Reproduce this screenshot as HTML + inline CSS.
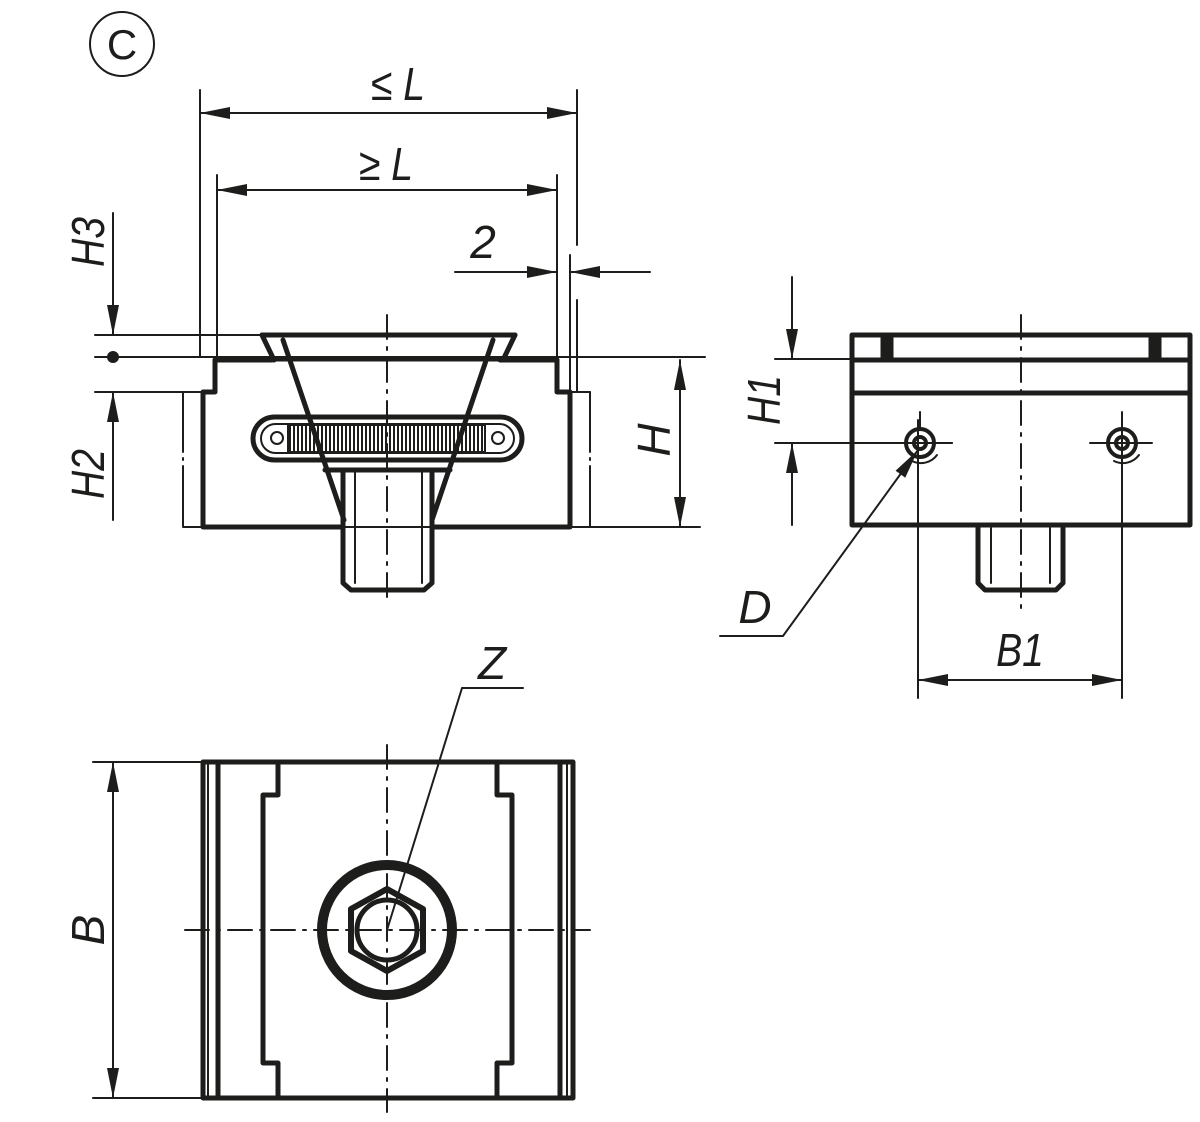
<!DOCTYPE html>
<html><head><meta charset="utf-8"><style>html,body{margin:0;padding:0;background:#fff}svg{display:block}</style></head>
<body>
<svg width="1200" height="1122" viewBox="0 0 1200 1122" xmlns="http://www.w3.org/2000/svg" font-family="Liberation Sans, sans-serif" font-style="italic">
<defs>
<marker id="a" viewBox="0 0 30 12" refX="30" refY="6" markerWidth="30" markerHeight="12" markerUnits="userSpaceOnUse" orient="auto-start-reverse"><path d="M0,0 L30,6 L0,12 z" fill="#1d1d1b"/></marker>
</defs>
<g stroke="#1d1d1b" fill="none" stroke-linecap="round" stroke-linejoin="round">
<circle cx="122" cy="44" r="32" stroke-width="2"/>
<g stroke-width="2">
<line x1="200" y1="90" x2="200" y2="357"/>
<line x1="577" y1="90" x2="577" y2="245"/>
<line x1="217" y1="175" x2="217" y2="357"/>
<line x1="557" y1="175" x2="557" y2="392"/>
<line x1="570" y1="255" x2="570" y2="392"/>
<line x1="577" y1="300" x2="577" y2="392"/>
<line x1="200" y1="113" x2="577" y2="113" marker-start="url(#a)" marker-end="url(#a)"/>
<line x1="217" y1="190" x2="557" y2="190" marker-start="url(#a)" marker-end="url(#a)"/>
<line x1="455" y1="272" x2="557" y2="272" marker-end="url(#a)"/>
<line x1="650" y1="272" x2="570" y2="272" marker-end="url(#a)"/>
<line x1="95" y1="335" x2="262" y2="335"/>
<line x1="95" y1="357" x2="705" y2="357"/>
<line x1="95" y1="392" x2="203" y2="392"/>
<line x1="113" y1="213" x2="113" y2="335" marker-end="url(#a)"/>
<line x1="113" y1="520" x2="113" y2="392" marker-end="url(#a)"/>
<line x1="183" y1="527" x2="700" y2="527"/>
<line x1="183" y1="392" x2="183" y2="527" stroke-dasharray="60,6,2,6"/>
<line x1="590" y1="392" x2="590" y2="527" stroke-dasharray="60,6,2,6"/>
<line x1="183" y1="392" x2="203" y2="392"/><line x1="570" y1="392" x2="590" y2="392"/>
<line x1="680" y1="360" x2="680" y2="527" marker-start="url(#a)" marker-end="url(#a)"/>
<line x1="775" y1="359" x2="852" y2="359"/>
<line x1="775" y1="443" x2="952" y2="443"/>
<line x1="792" y1="277" x2="792" y2="359" marker-end="url(#a)"/>
<line x1="792" y1="525" x2="792" y2="443" marker-end="url(#a)"/>
<line x1="918" y1="420" x2="918" y2="698"/>
<line x1="1122" y1="420" x2="1122" y2="698"/>
<line x1="918" y1="680" x2="1122" y2="680" marker-start="url(#a)" marker-end="url(#a)"/>
<line x1="1090" y1="443" x2="1152" y2="443"/>
<polyline points="720,636 783,636 918,450" marker-end="url(#a)"/>
<line x1="93" y1="762" x2="203" y2="762"/>
<line x1="93" y1="1098" x2="203" y2="1098"/>
<line x1="113" y1="762" x2="113" y2="1098" marker-start="url(#a)" marker-end="url(#a)"/>
<polyline points="523,688 462,688 387,930"/>
<line x1="387" y1="315" x2="387" y2="600" stroke-dasharray="24,8,3,8"/>
<line x1="1021" y1="315" x2="1021" y2="610" stroke-dasharray="24,8,3,8"/>
<line x1="387" y1="745" x2="387" y2="1112" stroke-dasharray="24,8,3,8"/>
<line x1="185" y1="930" x2="590" y2="930" stroke-dasharray="24,8,3,8"/>
<line x1="208" y1="762" x2="208" y2="1098"/>
<line x1="567" y1="762" x2="567" y2="1098"/>
</g>
<circle cx="113" cy="357" r="6" fill="#1d1d1b" stroke="none"/>
<g stroke-width="5">
<polyline points="215,360 215,392 203,392 203,527 343,527"/>
<polyline points="557,360 557,392 570,392 570,527 432,527"/>
<line x1="215" y1="360" x2="272" y2="360"/>
<line x1="500" y1="360" x2="557" y2="360"/>
<polyline points="262,335 515,335"/>
<line x1="262" y1="335" x2="274" y2="360"/>
<line x1="515" y1="335" x2="503" y2="360"/>
<line x1="283" y1="340" x2="344" y2="520"/>
<line x1="493" y1="340" x2="432" y2="520"/>
<line x1="275" y1="359" x2="500" y2="359"/>
<rect x="253" y="417" width="269" height="43" rx="21.5"/>
<polyline points="325,470 450,470"/>
<polyline points="343,470 343,583 351,590 424,590 432,583 432,470"/>
</g>
<g stroke-width="2">
<rect x="261" y="424" width="253" height="29" rx="14.5"/>
<circle cx="277" cy="438" r="6"/><circle cx="498" cy="438" r="6"/>
<line x1="355" y1="472" x2="355" y2="583"/><line x1="422" y1="472" x2="422" y2="583"/>
<rect x="288" y="425" width="197" height="27"/>
</g>
<path d="M290,426 V451 M294,426 V451 M298,426 V451 M302,426 V451 M306,426 V451 M310,426 V451 M314,426 V451 M318,426 V451 M322,426 V451 M326,426 V451 M330,426 V451 M334,426 V451 M338,426 V451 M342,426 V451 M346,426 V451 M350,426 V451 M354,426 V451 M358,426 V451 M362,426 V451 M366,426 V451 M370,426 V451 M374,426 V451 M378,426 V451 M382,426 V451 M386,426 V451 M390,426 V451 M394,426 V451 M398,426 V451 M402,426 V451 M406,426 V451 M410,426 V451 M414,426 V451 M418,426 V451 M422,426 V451 M426,426 V451 M430,426 V451 M434,426 V451 M438,426 V451 M442,426 V451 M446,426 V451 M450,426 V451 M454,426 V451 M458,426 V451 M462,426 V451 M466,426 V451 M470,426 V451 M474,426 V451 M478,426 V451 M482,426 V451" stroke-width="2"/>
<g stroke-width="5">
<rect x="852" y="335" width="338" height="190"/>
<line x1="852" y1="360" x2="1190" y2="360"/>
<line x1="852" y1="393" x2="1190" y2="393"/>
<rect x="883" y="338" width="8" height="22" fill="#1d1d1b"/>
<rect x="1151" y="338" width="8" height="22" fill="#1d1d1b"/>
<polyline points="978,525 978,583 985,590 1056,590 1063,583 1063,525"/>
<circle cx="920" cy="443" r="14" stroke-width="4"/>
<circle cx="1122" cy="443" r="14" stroke-width="4"/>
</g>
<g stroke-width="2">
<line x1="991" y1="528" x2="991" y2="583"/><line x1="1050" y1="528" x2="1050" y2="583"/>
<path d="M937,455 A20,20 0 0,1 912,461"/><path d="M1139,455 A20,20 0 0,1 1114,461"/>
<line x1="920" y1="412" x2="920" y2="430"/><line x1="933" y1="443" x2="952" y2="443"/>
<line x1="1122" y1="412" x2="1122" y2="430"/>
</g>
<circle cx="920" cy="443" r="6" stroke-width="4"/>
<circle cx="1122" cy="443" r="6" stroke-width="4"/>
<g stroke-width="5">
<rect x="203" y="762" width="370" height="336"/>
<line x1="218" y1="762" x2="218" y2="1098"/>
<line x1="560" y1="762" x2="560" y2="1098"/>
<polyline points="278,762 278,795 263,795 263,1063 278,1063 278,1098"/>
<polyline points="497,762 497,795 512,795 512,1063 497,1063 497,1098"/>
<circle cx="387" cy="930" r="65" stroke-width="10"/>
<polygon points="387,889 423,909 423,951 387,971 351,951 351,909" stroke-width="6"/>
<circle cx="387" cy="930" r="30"/>
</g>
</g>
<g fill="#1d1d1b" font-size="46">
<text x="122" y="59" font-style="normal" font-size="42" text-anchor="middle">C</text>
<text x="398" y="100" text-anchor="middle" transform="translate(398,0) scale(0.85,1) translate(-398,0)">≤ L</text>
<text x="386" y="180" text-anchor="middle" transform="translate(386,0) scale(0.85,1) translate(-386,0)">≥ L</text>
<text x="483" y="258" text-anchor="middle">2</text>
<text transform="translate(104,242) rotate(-90) scale(0.85,1)" text-anchor="middle">H3</text>
<text transform="translate(104,474) rotate(-90) scale(0.85,1)" text-anchor="middle">H2</text>
<text transform="translate(670,440) rotate(-90)" text-anchor="middle">H</text>
<text transform="translate(780,400) rotate(-90) scale(0.85,1)" text-anchor="middle">H1</text>
<text x="755" y="623" text-anchor="middle">D</text>
<text x="1020" y="666" text-anchor="middle" transform="translate(1020,0) scale(0.85,1) translate(-1020,0)">B1</text>
<text transform="translate(104,930) rotate(-90)" text-anchor="middle">B</text>
<text x="492" y="679" text-anchor="middle">Z</text>
</g>
</svg>
</body></html>
